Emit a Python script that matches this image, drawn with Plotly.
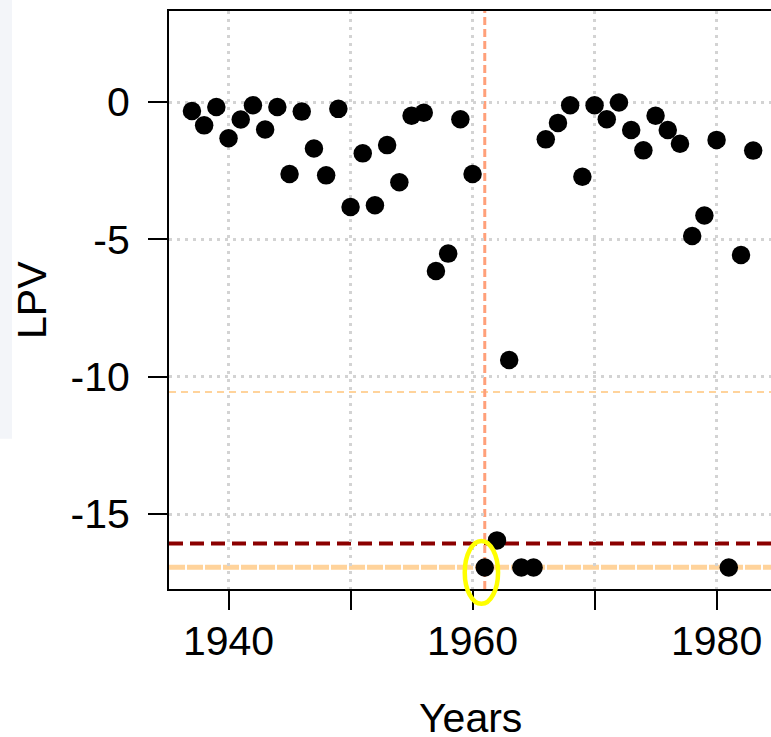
import plotly.graph_objects as go

# ---- data ----
years = list(range(1937, 1984))
lpv = [-0.33, -0.85, -0.18, -1.32, -0.64, -0.12, -1.00, -0.18, -2.62, -0.35,
       -1.69, -2.67, -0.25, -3.82, -1.87, -3.76, -1.57, -2.92, -0.50, -0.39,
       -6.15, -5.52, -0.63, -2.62, -16.95, -15.96, -9.39, -16.95, -16.95, -1.36,
       -0.76, -0.12, -2.72, -0.12, -0.63, -0.02, -1.02, -1.76, -0.50, -1.02,
       -1.52, -4.88, -4.13, -1.38, -16.95, -5.57, -1.77]
x_ticks = [1940, 1950, 1960, 1970, 1980]
x_ticktext = ["1940", "", "1960", "", "1980"]
y_ticks = [-15, -10, -5, 0]
y_ticktext = ["-15", "-10", "-5", "0"]
event_year = 1961
line_darkred = -16.07
line_peach = -16.94
line_thin = -10.56
highlight_x = [1959.36, 1962.09]
highlight_y = [-18.27, -15.98]

X_RANGE = [1935.12, 1984.46]
Y_RANGE = [-17.73, 3.313]

FONT = "Liberation Sans, Arial, sans-serif"

fig = go.Figure()
fig.add_trace(go.Scatter(x=years, y=lpv, mode="markers",
                         marker=dict(color="black", size=18.5, line=dict(width=0)),
                         showlegend=False, hoverinfo="x+y"))

def px(v):
    return (v - X_RANGE[0]) / (X_RANGE[1] - X_RANGE[0])

def py(v):
    return (v - Y_RANGE[0]) / (Y_RANGE[1] - Y_RANGE[0])

shapes = [
    # faint strip at left edge
    dict(type="rect", xref="paper", yref="paper", x0=-169/602, x1=-157/602,
         y0=0.26, y1=1.02, fillcolor="#f3f5f9", line=dict(width=0), layer="below"),
    dict(type="line", xref="paper", yref="y", x0=0, x1=1, y0=line_thin, y1=line_thin,
         line=dict(color="#FFD39B", width=2, dash="7px,5px"), layer="below"),
    dict(type="line", xref="paper", yref="y", x0=0, x1=1, y0=line_darkred, y1=line_darkred,
         line=dict(color="#8B0000", width=4, dash="14px,7px"), layer="below"),
    dict(type="line", xref="paper", yref="y", x0=0, x1=1, y0=line_peach, y1=line_peach,
         line=dict(color="#FFD39B", width=5, dash="16px,2px"), layer="below"),
    dict(type="line", xref="x", yref="paper", x0=event_year, x1=event_year, y0=0, y1=1,
         line=dict(color="#FFA07A", width=3, dash="8px,4px"), layer="below"),
    dict(type="circle", xref="paper", yref="paper",
         x0=px(highlight_x[0]), x1=px(highlight_x[1]),
         y0=py(highlight_y[0]), y1=py(highlight_y[1]),
         line=dict(color="#FFFF00", width=4.5), layer="above"),
]

fig.update_layout(
    width=771, height=737,
    margin=dict(l=169, r=0, t=11, b=148, pad=0),
    paper_bgcolor="white", plot_bgcolor="white",
    font=dict(family=FONT, size=41, color="black"),
    shapes=shapes,
    xaxis=dict(range=X_RANGE, tickvals=x_ticks, ticktext=x_ticktext,
               showline=True, linecolor="black", linewidth=2, mirror=True,
               ticks="outside", ticklen=19, tickwidth=2, tickcolor="black",
               ticklabelstandoff=-4,
               showgrid=True, gridcolor="#D3D3D3", gridwidth=2.5, griddash="2.5px,5.5px",
               zeroline=False),
    yaxis=dict(range=Y_RANGE, tickvals=y_ticks, ticktext=y_ticktext,
               showline=True, linecolor="black", linewidth=2, mirror=False,
               ticks="outside", ticklen=19, tickwidth=2, tickcolor="black",
               ticklabelstandoff=10,
               showgrid=True, gridcolor="#D3D3D3", gridwidth=2.5, griddash="2.5px,5.5px",
               zeroline=False),
    annotations=[
        dict(text="Years", xref="paper", yref="paper", x=0.5, y=-(718 - 589) / 578,
             xanchor="center", yanchor="middle", showarrow=False,
             font=dict(family=FONT, size=41, color="black")),
        dict(text="LPV", xref="paper", yref="paper", x=(32 - 169) / 602, y=0.5,
             xanchor="center", yanchor="middle", textangle=-90, showarrow=False,
             font=dict(family=FONT, size=41, color="black")),
    ],
)

fig.write_html("out.html")
